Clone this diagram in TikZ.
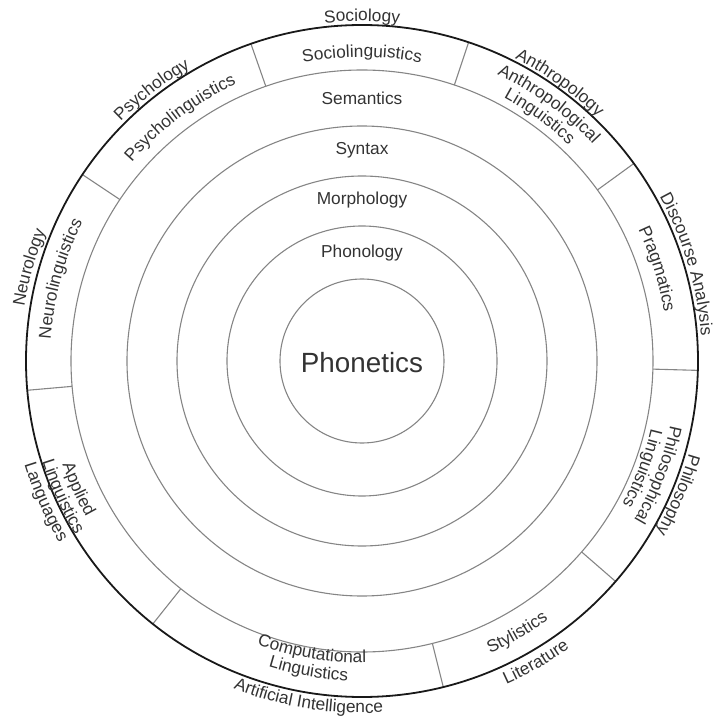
\documentclass[tikz,border=0pt]{standalone}
\usepackage{fontspec}
\setmainfont{Liberation Sans}
\usetikzlibrary{decorations.text}
\definecolor{ringline}{HTML}{858585}
\definecolor{labeltext}{HTML}{333333}
\begin{document}
\begin{tikzpicture}[x=1pt,y=1pt,ring/.style={draw=ringline,line width=1.1pt},rim/.style={draw=black!90,line width=1.8pt},corelabel/.style={anchor=base,text=labeltext,font=\fontsize{17.3}{20}\selectfont},arclabel/.style={decorate,decoration={text along path,text align=center,text={|\fontsize{17.3}{20}\selectfont\color{labeltext}|#1}}}]
\useasboundingbox (-362,-362) rectangle (352,361);
\draw[ring] (0,0) circle[radius=82];\draw[ring] (0,0) circle[radius=135];\draw[ring] (0,0) circle[radius=185];\draw[ring] (0,0) circle[radius=235];\draw[ring] (0,0) circle[radius=291];
\draw[ring] (71.5:291) -- (71.5:336);\draw[ring] (109.3:291) -- (109.3:336);\draw[ring] (146.3:291) -- (146.3:336);
\draw[ring] (185:291) -- (185:336);\draw[ring] (231.5:291) -- (231.5:336);\draw[ring] (284:291) -- (284:336);
\draw[ring] (319:291) -- (319:336);\draw[ring] (358.4:291) -- (358.4:336);\draw[ring] (36:291) -- (36:336);
\draw[rim] (0,0) circle[radius=336];
\node[corelabel] (semantics) at (0,256) {Semantics};
\node[corelabel] (syntax) at (0,206) {Syntax};
\node[corelabel] (morphology) at (0,156) {Morphology};
\node[corelabel] (phonology) at (0,103) {Phonology};
\node[corelabel, font=\fontsize{27.8}{32}\selectfont] (phonetics) at (0,-11) {Phonetics};
% fields of linguistics, inside the outer ring
\path[arclabel=Sociolinguistics] (125:304) arc[start angle=125,end angle=55,radius=304];
\path[arclabel=Psycholinguistics] (161.8:304) arc[start angle=161.8,end angle=91.8,radius=304];
\path[arclabel=Neurolinguistics] (199.8:312) arc[start angle=199.8,end angle=129.8,radius=312];
\path[arclabel=Applied] (169.3:317) arc[start angle=169.3,end angle=239.3,radius=317];
\path[arclabel=Linguistics] (169.3:335) arc[start angle=169.3,end angle=239.3,radius=335];
\path[arclabel=Computational] (225.2:302) arc[start angle=225.2,end angle=295.2,radius=302];
\path[arclabel=Linguistics] (225.2:320) arc[start angle=225.2,end angle=295.2,radius=320];
\path[arclabel=Stylistics] (264.7:319) arc[start angle=264.7,end angle=334.7,radius=319];
\path[arclabel=Philosophical] (374:315) arc[start angle=374,end angle=304,radius=315];
\path[arclabel=Linguistics] (374:297) arc[start angle=374,end angle=304,radius=297];
\path[arclabel=Pragmatics] (52.3:306) arc[start angle=52.3,end angle=-17.7,radius=306];
\path[arclabel=Anthropological] (89:317) arc[start angle=89,end angle=19,radius=317];
\path[arclabel=Linguistics] (89:299) arc[start angle=89,end angle=19,radius=299];
% neighbouring disciplines, outside the rim
\path[arclabel=Sociology] (125:340) arc[start angle=125,end angle=55,radius=340];
\path[arclabel=Psychology] (162.8:340) arc[start angle=162.8,end angle=92.8,radius=340];
\path[arclabel=Neurology] (199.3:342) arc[start angle=199.3,end angle=129.3,radius=342];
\path[arclabel=Languages] (169:353) arc[start angle=169,end angle=239,radius=353];
\path[arclabel={Artificial Intelligence}] (226:352) arc[start angle=226,end angle=296,radius=352];
\path[arclabel=Literature] (265:354) arc[start angle=265,end angle=335,radius=354];
\path[arclabel=Philosophy] (372:340) arc[start angle=372,end angle=302,radius=340];
\path[arclabel={Discourse Analysis}] (51.6:340) arc[start angle=51.6,end angle=-18.4,radius=340];
\path[arclabel=Anthropology] (89.6:339) arc[start angle=89.6,end angle=19.6,radius=339];
\end{tikzpicture}
\end{document}
